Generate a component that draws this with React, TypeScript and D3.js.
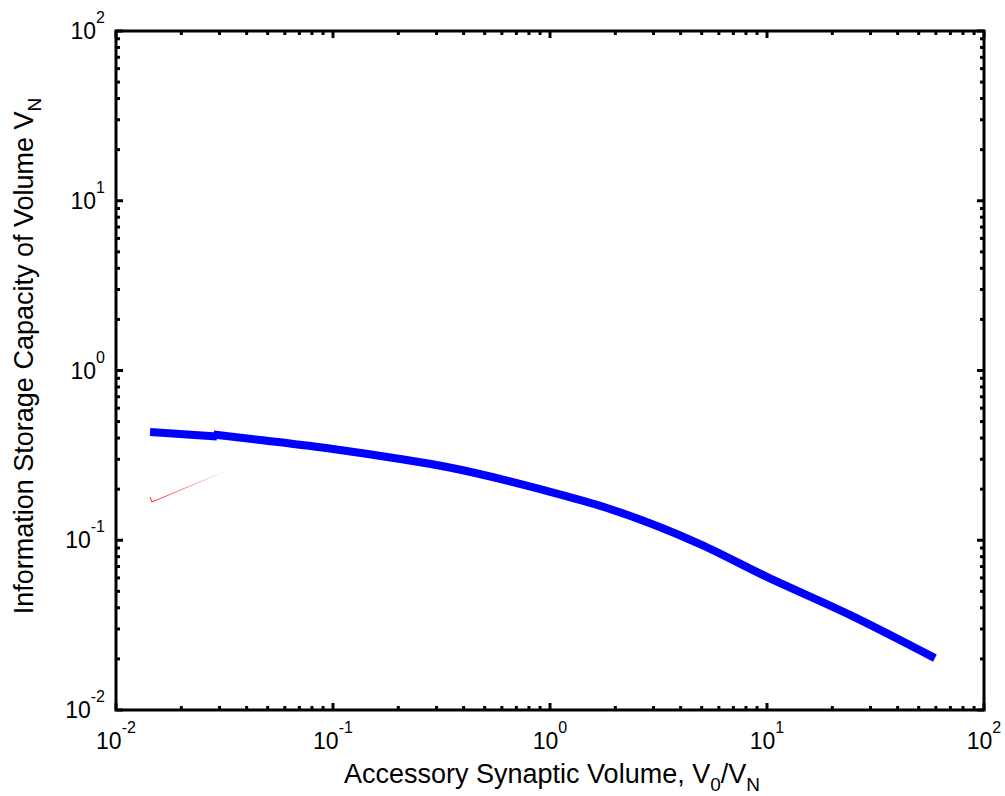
import React from "react";
import * as d3 from "d3";

const xTickExps = [-2, -1, 0, 1, 2];
const yTickExps = [-2, -1, 0, 1, 2];

// Blue curve, first short segment
const seriesAX = [0.01435, 0.0197, 0.0292];
const seriesAY = [0.434, 0.423, 0.408];
// Blue curve, main segment
const seriesBX = [0.0282, 0.0461, 0.1, 0.204, 0.335, 0.929, 1.83, 4.91, 10, 24.1, 59.4];
const seriesBY = [0.42, 0.39, 0.345, 0.301, 0.27, 0.198, 0.155, 0.095, 0.0608, 0.0363, 0.0202];
// Faint red curve
const seriesCX = [0.01435, 0.01465, 0.0328];
const seriesCY = [0.18, 0.168, 0.259];

const W = 1005;
const H = 796;
const L = 116, R = 984, T = 31, B = 710;

export default function App() {
  const x = d3.scaleLog().domain([1e-2, 1e2]).range([L, R]);
  const y = d3.scaleLog().domain([1e-2, 1e2]).range([B, T]);
  const curveLine = d3
    .line<[number, number]>()
    .x((d) => x(d[0]))
    .y((d) => y(d[1]))
    .curve(d3.curveMonotoneX);
  const straightLine = d3
    .line<[number, number]>()
    .x((d) => x(d[0]))
    .y((d) => y(d[1]));
  const zip = (a: number[], b: number[]) => a.map((v, i) => [v, b[i]] as [number, number]);

  const minor: number[] = [];
  for (let e = -2; e < 2; e++) for (let k = 2; k <= 9; k++) minor.push(k * Math.pow(10, e));
  const major = xTickExps.map((e) => Math.pow(10, e));
  const font = "Liberation Sans, Arial, sans-serif";
  const tickLen = 7;
  const minorLen = 4;

  return (
    <svg width={W} height={H} style={{ position: "absolute", left: 0, top: 0, background: "#fff" }}>
      <rect x={0} y={0} width={W} height={H} fill="#fff" />
      <defs>
        <linearGradient id="redfade" gradientUnits="userSpaceOnUse" x1={x(0.01435)} y1={0} x2={x(0.0328)} y2={0}>
          <stop offset="0" stopColor="#ff0000" stopOpacity={0.85} />
          <stop offset="1" stopColor="#ff0000" stopOpacity={0} />
        </linearGradient>
      </defs>
      {/* data */}
      <path d={straightLine(zip(seriesCX, seriesCY)) || ""} fill="none" stroke="url(#redfade)" strokeWidth={1} />
      <path d={straightLine(zip(seriesAX, seriesAY)) || ""} fill="none" stroke="#0000ff" strokeWidth={8} strokeLinejoin="round" />
      <path d={curveLine(zip(seriesBX, seriesBY)) || ""} fill="none" stroke="#0000ff" strokeWidth={8} strokeLinejoin="round" />

      {/* ticks */}
      <g stroke="#000" strokeWidth={3}>
        {major.map((v, i) => (
          <g key={"mx" + i}>
            <line x1={x(v)} x2={x(v)} y1={B} y2={B - tickLen} />
            <line x1={x(v)} x2={x(v)} y1={T} y2={T + tickLen} />
            <line y1={y(v)} y2={y(v)} x1={L} x2={L + tickLen} />
            <line y1={y(v)} y2={y(v)} x1={R} x2={R - tickLen} />
          </g>
        ))}
        {minor.map((v, i) => (
          <g key={"mn" + i}>
            <line x1={x(v)} x2={x(v)} y1={B} y2={B - minorLen} />
            <line x1={x(v)} x2={x(v)} y1={T} y2={T + minorLen} />
            <line y1={y(v)} y2={y(v)} x1={L} x2={L + minorLen} />
            <line y1={y(v)} y2={y(v)} x1={R} x2={R - minorLen} />
          </g>
        ))}
      </g>
      <rect x={L} y={T} width={R - L} height={B - T} fill="none" stroke="#000" strokeWidth={3} />

      {/* x tick labels */}
      {xTickExps.map((e) => (
        <text key={"xl" + e} x={x(Math.pow(10, e))} y={749} fontFamily={font} fontSize={23} textAnchor="middle" fill="#000">
          <tspan>10</tspan>
          <tspan fontSize={16} dy={-16}>{String(e)}</tspan>
        </text>
      ))}
      {/* y tick labels */}
      {yTickExps.map((e) => (
        <text key={"yl" + e} x={105} y={y(Math.pow(10, e)) + 8} fontFamily={font} fontSize={23} textAnchor="end" fill="#000">
          <tspan>10</tspan>
          <tspan fontSize={16} dy={-16}>{String(e)}</tspan>
        </text>
      ))}

      {/* axis titles */}
      <text x={552} y={783} fontFamily={font} fontSize={27} textAnchor="middle" fill="#000">
        <tspan>Accessory Synaptic Volume, V</tspan>
        <tspan fontSize={19} dy={8}>0</tspan>
        <tspan dy={-8}>/V</tspan>
        <tspan fontSize={19} dy={8}>N</tspan>
      </text>
      <text
        transform={`translate(33, 356) rotate(-90)`}
        fontFamily={font}
        fontSize={27}
        textAnchor="middle"
        fill="#000"
      >
        <tspan>Information Storage Capacity of Volume V</tspan>
        <tspan fontSize={19} dy={8}>N</tspan>
      </text>
    </svg>
  );
}
